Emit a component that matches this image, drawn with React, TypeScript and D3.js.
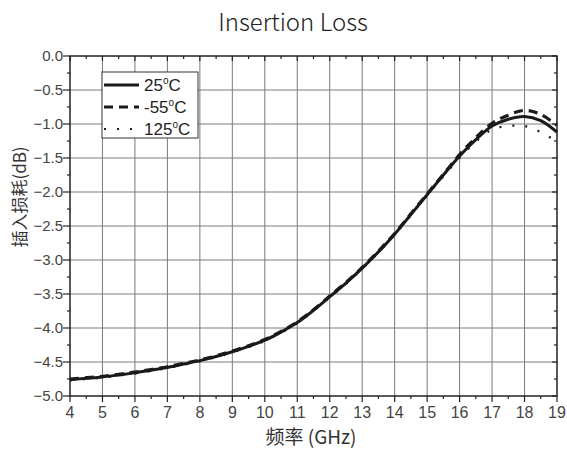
import { useEffect, useRef } from 'react';
import * as d3 from 'd3';

// frequency points (GHz)
const freqs = [4, 4.5, 5, 5.5, 6, 6.5, 7, 7.5, 8, 8.5, 9, 9.5, 10, 10.5, 11, 11.5, 12, 12.5, 13, 13.5, 14, 14.5, 15, 15.5, 16, 16.5, 17, 17.5, 18, 18.5, 19];

// insertion loss (dB) per temperature
const loss25 = [-4.76, -4.74, -4.72, -4.69, -4.66, -4.62, -4.58, -4.53, -4.48, -4.42, -4.35, -4.27, -4.18, -4.06, -3.92, -3.74, -3.54, -3.34, -3.12, -2.88, -2.62, -2.33, -2.04, -1.75, -1.47, -1.23, -1.03, -0.93, -0.89, -0.95, -1.12];
const lossM55 = [-4.75, -4.73, -4.71, -4.68, -4.65, -4.61, -4.57, -4.52, -4.47, -4.41, -4.34, -4.26, -4.17, -4.05, -3.91, -3.73, -3.53, -3.33, -3.11, -2.87, -2.61, -2.32, -2.03, -1.74, -1.45, -1.2, -0.99, -0.87, -0.8, -0.86, -1.02];
const loss125 = [-4.77, -4.75, -4.73, -4.7, -4.67, -4.63, -4.59, -4.54, -4.49, -4.43, -4.36, -4.28, -4.19, -4.07, -3.93, -3.75, -3.55, -3.35, -3.13, -2.89, -2.63, -2.34, -2.05, -1.77, -1.5, -1.26, -1.08, -1.03, -1.03, -1.12, -1.26];

const xTicks = [4, 5, 6, 7, 8, 9, 10, 11, 12, 13, 14, 15, 16, 17, 18, 19];
const yTicks = [0, -0.5, -1, -1.5, -2, -2.5, -3, -3.5, -4, -4.5, -5];

const seriesNames = ['25', '-55', '125'];

export default function App() {
  const svgRef = useRef<SVGSVGElement>(null);
  const width = 567;
  const height = 452;

  useEffect(() => {
    if (!svgRef.current) return;
    const svg = d3.select(svgRef.current);
    svg.selectAll('*').remove();

    const left = 70, right = 557, top = 56, bottom = 396;
    const x = d3.scaleLinear().domain([4, 19]).range([left, right]);
    const y = d3.scaleLinear().domain([-5, 0]).range([bottom, top]);
    const tickFont = 'Liberation Sans, Arial, sans-serif';
    const cjkFont = 'Noto Sans CJK SC, Noto Sans, sans-serif';

    // grid
    const grid = svg.append('g').attr('stroke', '#7a7a7a').attr('stroke-width', 1);
    xTicks.slice(1, -1).forEach(t => {
      grid.append('line').attr('x1', x(t)).attr('x2', x(t)).attr('y1', top).attr('y2', bottom);
    });
    yTicks.slice(1, -1).forEach(t => {
      grid.append('line').attr('x1', left).attr('x2', right).attr('y1', y(t)).attr('y2', y(t));
    });

    // frame
    svg.append('rect')
      .attr('x', left).attr('y', top)
      .attr('width', right - left).attr('height', bottom - top)
      .attr('fill', 'none').attr('stroke', '#222').attr('stroke-width', 1.5);

    // ticks
    const ticks = svg.append('g').attr('stroke', '#222').attr('stroke-width', 1.2);
    const xMinor = d3.range(4.5, 19, 1);
    const yMinor = d3.range(-4.75, 0, 0.5);
    xTicks.forEach(t => {
      ticks.append('line').attr('x1', x(t)).attr('x2', x(t)).attr('y1', bottom).attr('y2', bottom + 6);
      ticks.append('line').attr('x1', x(t)).attr('x2', x(t)).attr('y1', top).attr('y2', top + 5);
    });
    xMinor.forEach(t => {
      ticks.append('line').attr('x1', x(t)).attr('x2', x(t)).attr('y1', bottom).attr('y2', bottom + 3);
      ticks.append('line').attr('x1', x(t)).attr('x2', x(t)).attr('y1', top).attr('y2', top + 3);
    });
    yTicks.forEach(t => {
      ticks.append('line').attr('x1', left - 7).attr('x2', left).attr('y1', y(t)).attr('y2', y(t));
      ticks.append('line').attr('x1', right - 5).attr('x2', right).attr('y1', y(t)).attr('y2', y(t));
    });
    yMinor.forEach(t => {
      ticks.append('line').attr('x1', left - 3).attr('x2', left).attr('y1', y(t)).attr('y2', y(t));
      ticks.append('line').attr('x1', right - 3).attr('x2', right).attr('y1', y(t)).attr('y2', y(t));
    });

    // tick labels
    svg.append('g').selectAll('text').data(xTicks).join('text')
      .attr('x', d => x(d)).attr('y', bottom + 22)
      .attr('text-anchor', 'middle')
      .attr('font-family', tickFont).attr('font-size', 16).attr('fill', '#444')
      .text(d => d);
    svg.append('g').selectAll('text').data(yTicks).join('text')
      .attr('x', left - 7).attr('y', d => y(d) + 5)
      .attr('text-anchor', 'end')
      .attr('font-family', tickFont).attr('font-size', 15).attr('fill', '#444')
      .text(d => d3.format('.1f')(d));

    // curves
    const line = d3.line<number>()
      .x((_, i) => x(freqs[i]))
      .y(d => y(d))
      .curve(d3.curveCatmullRom);
    const styles = [
      { data: loss25, dash: null, w: 3 },
      { data: lossM55, dash: '9,6', w: 3.2 },
      { data: loss125, dash: '2,11', w: 2.2 },
    ];
    styles.forEach(s => {
      const p = svg.append('path')
        .attr('d', line(s.data))
        .attr('fill', 'none')
        .attr('stroke', '#1a1a1a')
        .attr('stroke-width', s.w);
      if (s.dash) p.attr('stroke-dasharray', s.dash);
    });

    // legend
    const lg = svg.append('g');
    lg.append('rect')
      .attr('x', 102).attr('y', 72).attr('width', 96).attr('height', 66)
      .attr('fill', '#fff').attr('stroke', '#333').attr('stroke-width', 1);
    styles.forEach((s, i) => {
      const ly = 85 + i * 22;
      const l = lg.append('line')
        .attr('x1', 104).attr('x2', 139).attr('y1', ly).attr('y2', ly)
        .attr('stroke', '#1a1a1a').attr('stroke-width', s.w);
      if (s.dash) l.attr('stroke-dasharray', s.dash);
      const t = lg.append('text')
        .attr('x', 144).attr('y', ly + 6)
        .attr('font-family', tickFont).attr('font-size', 17).attr('fill', '#222');
      t.append('tspan').text(seriesNames[i]);
      t.append('tspan').attr('font-size', 10).attr('dy', -7).text('o');
      t.append('tspan').attr('dy', 7).text('C');
    });

    // titles
    svg.append('text')
      .attr('x', 293).attr('y', 31).attr('text-anchor', 'middle')
      .attr('font-family', cjkFont)
      .attr('font-size', 24).attr('font-weight', 300).attr('fill', '#222')
      .text('Insertion Loss');
    svg.append('text')
      .attr('x', 311).attr('y', 444).attr('text-anchor', 'middle')
      .attr('font-family', cjkFont)
      .attr('font-size', 19).attr('fill', '#333')
      .text('频率 (GHz)');
    svg.append('text')
      .attr('transform', 'translate(26,197) rotate(-90)')
      .attr('text-anchor', 'middle')
      .attr('font-family', cjkFont)
      .attr('font-size', 17).attr('fill', '#333')
      .text('插入损耗(dB)');
  }, []);

  return (
    <div style={{ position: 'absolute', left: 0, top: 0 }}>
      <svg ref={svgRef} width={width} height={height} style={{ display: 'block', background: '#fff' }}></svg>
    </div>
  );
}
